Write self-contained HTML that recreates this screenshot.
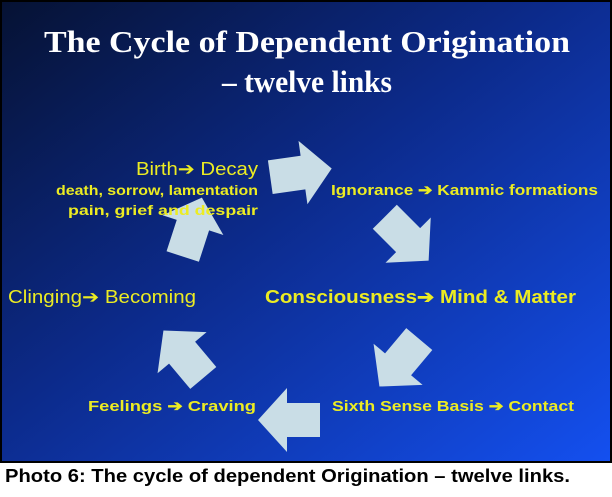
<!DOCTYPE html>
<html><head><meta charset="utf-8"><style>
html,body{margin:0;padding:0;background:#fff;width:612px;height:497px;overflow:hidden}
</style></head><body>
<svg width="612" height="497" viewBox="0 0 612 497" xmlns="http://www.w3.org/2000/svg">
<defs>
<linearGradient id="bg" x1="0" y1="0" x2="1" y2="1">
<stop offset="0" stop-color="#061233"/>
<stop offset="0.45" stop-color="#0c2a8a"/>
<stop offset="1" stop-color="#1450f0"/>
</linearGradient>
<polygon id="arr" points="-30,-17 3,-17 3,-32 32,0 3,32 3,17 -30,17" fill="#c9dde6"/>
</defs>
<rect x="1" y="1" width="610" height="461" fill="url(#bg)" stroke="#000" stroke-width="2"/>
<g font-family="Liberation Serif, serif" font-weight="bold" fill="#fff" font-size="31" text-anchor="middle">
<text x="307" y="52" textLength="526" lengthAdjust="spacingAndGlyphs">The Cycle of Dependent Origination</text>
<text x="307" y="92" textLength="170" lengthAdjust="spacingAndGlyphs">– twelve links</text>
</g>
<use href="#arr" transform="translate(300,173) rotate(-8)"/>
<use href="#arr" transform="translate(406,238) rotate(45)"/>
<use href="#arr" transform="translate(400,362) rotate(130)"/>
<use href="#arr" transform="translate(290,420) rotate(180)"/>
<use href="#arr" transform="translate(184,355) rotate(-130)"/>
<use href="#arr" transform="translate(192,228) rotate(-72)"/>
<g font-family="Liberation Sans Narrow, Liberation Sans, sans-serif" fill="#ecec22">
<text x="258" y="175" font-size="18" text-anchor="end" textLength="122" lengthAdjust="spacingAndGlyphs">Birth➔ Decay</text>
<text x="258" y="195" font-size="14" font-weight="bold" text-anchor="end" textLength="202" lengthAdjust="spacingAndGlyphs">death, sorrow, lamentation</text>
<text x="258" y="215" font-size="14" font-weight="bold" text-anchor="end" textLength="190" lengthAdjust="spacingAndGlyphs">pain, grief and      despair</text>
<text x="331" y="195" font-size="15" font-weight="bold" textLength="267" lengthAdjust="spacingAndGlyphs">Ignorance ➔ Kammic formations</text>
<text x="265" y="303" font-size="18" font-weight="bold" textLength="311" lengthAdjust="spacingAndGlyphs">Consciousness➔ Mind &amp; Matter</text>
<text x="8" y="303" font-size="18" textLength="188" lengthAdjust="spacingAndGlyphs">Clinging➔ Becoming</text>
<text x="332" y="411" font-size="15" font-weight="bold" textLength="242" lengthAdjust="spacingAndGlyphs">Sixth Sense Basis ➔  Contact</text>
<text x="88" y="411" font-size="15" font-weight="bold" textLength="168" lengthAdjust="spacingAndGlyphs">Feelings  ➔  Craving</text>
</g>
<text x="5" y="482" font-family="Liberation Sans Narrow, Liberation Sans, sans-serif" font-weight="bold" font-size="18" fill="#000" textLength="565" lengthAdjust="spacingAndGlyphs">Photo 6: The cycle of dependent Origination – twelve links.</text>
</svg>
</body></html>
